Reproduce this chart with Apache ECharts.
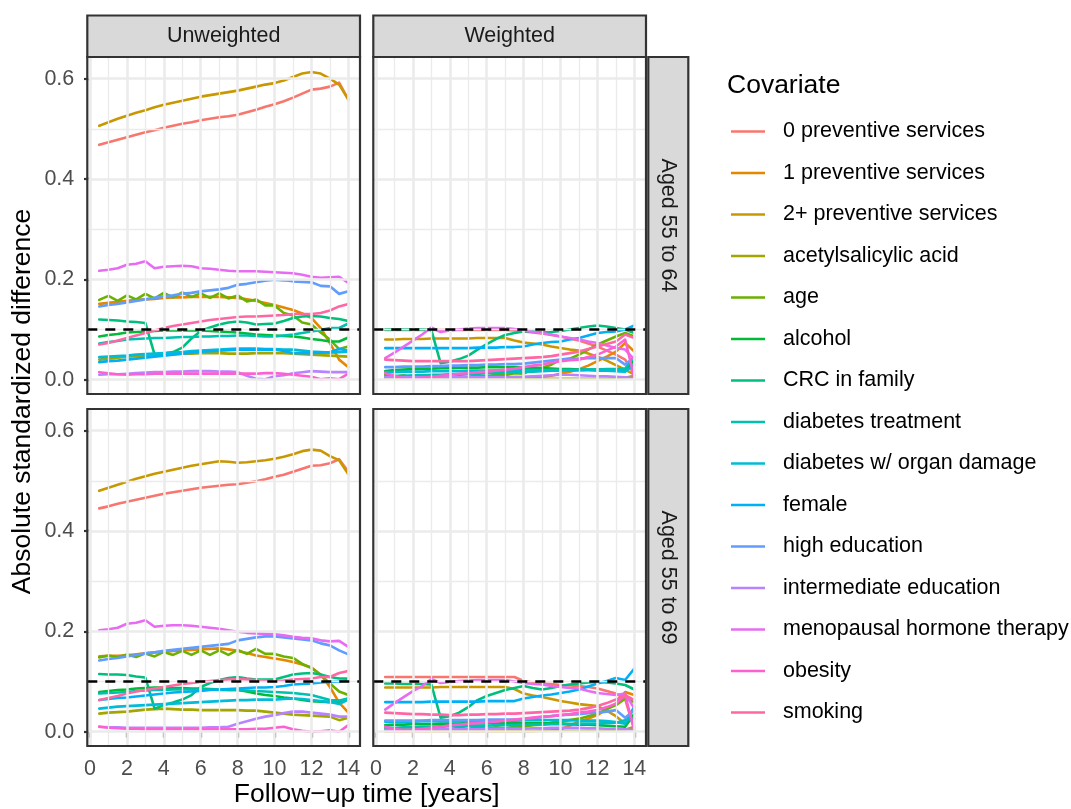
<!DOCTYPE html>
<html><head><meta charset="utf-8">
<script src="https://cdn.jsdelivr.net/npm/echarts@6/dist/echarts.min.js"></script>
<style>html,body{margin:0;padding:0;background:#fff}#c{width:1071px;height:809px}</style>
</head><body><div id="c"></div>
<script>
// ---------- data ----------
const time = [0.5,1,1.5,2,2.5,3,3.5,4,4.5,5,5.5,6,6.5,7,7.5,8,8.5,9,9.5,10,10.5,11,11.5,12,12.5,13,13.5,14];
const covariates = ['0 preventive services','1 preventive services','2+ preventive services','acetylsalicylic acid','age','alcohol','CRC in family','diabetes treatment','diabetes w/ organ damage','female','high education','intermediate education','menopausal hormone therapy','obesity','smoking'];
const colStrips = ['Unweighted','Weighted'];
const rowStrips = ['Aged 55 to 64','Aged 55 to 69'];
const xTicks = [0,2,4,6,8,10,12,14];
const xMinor = [1,3,5,7,9,11,13];
const yTicks = [0,0.2,0.4,0.6];
const yMinor = [0.1,0.3,0.5];
const threshold = 0.1;

// Unweighted, aged 55 to 64
const u64_prev0 = [0.468,0.473,0.478,0.483,0.488,0.493,0.497,0.502,0.506,0.510,0.513,0.517,0.520,0.523,0.525,0.528,0.533,0.538,0.544,0.549,0.555,0.562,0.570,0.578,0.580,0.584,0.592,0.558];
const u64_prev1 = [0.151,0.153,0.155,0.157,0.159,0.160,0.161,0.163,0.164,0.164,0.165,0.165,0.165,0.165,0.164,0.163,0.160,0.157,0.153,0.149,0.144,0.139,0.132,0.123,0.103,0.073,0.040,0.025];
const u64_prev2 = [0.506,0.513,0.520,0.526,0.532,0.537,0.543,0.548,0.552,0.556,0.560,0.564,0.567,0.570,0.573,0.576,0.580,0.584,0.588,0.591,0.596,0.603,0.610,0.613,0.610,0.600,0.588,0.558];
const u64_asa = [0.040,0.042,0.044,0.046,0.047,0.048,0.049,0.050,0.051,0.052,0.052,0.053,0.053,0.053,0.052,0.052,0.052,0.053,0.053,0.053,0.053,0.052,0.051,0.050,0.049,0.048,0.047,0.046];
const u64_age = [0.159,0.167,0.157,0.168,0.160,0.171,0.162,0.173,0.164,0.174,0.165,0.172,0.163,0.172,0.162,0.168,0.156,0.160,0.148,0.148,0.133,0.128,0.114,0.110,0.094,0.080,0.061,0.066];
const u64_alc = [0.086,0.089,0.091,0.094,0.095,0.096,0.097,0.098,0.098,0.098,0.098,0.098,0.097,0.096,0.095,0.094,0.092,0.090,0.089,0.088,0.087,0.086,0.084,0.081,0.079,0.076,0.076,0.084];
const u64_crc = [0.120,0.119,0.118,0.116,0.115,0.113,0.050,0.052,0.055,0.064,0.082,0.097,0.104,0.110,0.114,0.116,0.114,0.110,0.111,0.112,0.117,0.123,0.126,0.127,0.126,0.123,0.121,0.117];
const u64_dmt = [0.072,0.075,0.077,0.080,0.081,0.082,0.083,0.083,0.084,0.085,0.085,0.086,0.086,0.087,0.087,0.088,0.088,0.087,0.086,0.086,0.088,0.090,0.093,0.096,0.099,0.103,0.103,0.112];
const u64_dmo = [0.045,0.046,0.047,0.048,0.050,0.051,0.052,0.053,0.054,0.055,0.057,0.058,0.059,0.060,0.061,0.062,0.062,0.062,0.061,0.061,0.060,0.060,0.058,0.056,0.055,0.054,0.055,0.056];
const u64_fem = [0.035,0.037,0.038,0.040,0.042,0.044,0.046,0.048,0.050,0.052,0.054,0.056,0.057,0.058,0.059,0.060,0.060,0.060,0.060,0.060,0.057,0.053,0.053,0.053,0.054,0.055,0.061,0.058];
const u64_hed = [0.146,0.149,0.151,0.154,0.157,0.160,0.163,0.166,0.168,0.171,0.173,0.176,0.178,0.180,0.183,0.189,0.191,0.194,0.197,0.199,0.198,0.196,0.195,0.194,0.187,0.186,0.171,0.176];
const u64_ied = [0.010,0.011,0.011,0.012,0.013,0.014,0.015,0.015,0.016,0.016,0.017,0.017,0.017,0.016,0.016,0.015,0.008,0.002,0.001,0.007,0.009,0.013,0.015,0.017,0.016,0.015,0.015,0.015];
const u64_mht = [0.217,0.219,0.222,0.229,0.231,0.236,0.222,0.225,0.226,0.227,0.226,0.222,0.221,0.219,0.217,0.216,0.216,0.216,0.215,0.214,0.213,0.212,0.209,0.205,0.203,0.204,0.205,0.193];
const u64_obe = [0.015,0.013,0.011,0.010,0.011,0.011,0.012,0.012,0.012,0.012,0.012,0.012,0.012,0.012,0.012,0.012,0.012,0.012,0.013,0.013,0.012,0.010,0.008,0.006,0.001,0.003,0.001,0.012];
const u64_smk = [0.070,0.073,0.078,0.083,0.088,0.093,0.098,0.103,0.107,0.110,0.113,0.116,0.119,0.121,0.123,0.125,0.126,0.126,0.127,0.128,0.129,0.131,0.131,0.131,0.133,0.138,0.146,0.151];

// Weighted, aged 55 to 64
const w64_prev0 = [0.099,0.099,0.099,0.099,0.099,0.099,0.099,0.099,0.099,0.099,0.099,0.099,0.099,0.099,0.098,0.096,0.094,0.092,0.089,0.086,0.082,0.078,0.072,0.066,0.058,0.050,0.040,0.010];
const w64_prev1 = [0.004,0.004,0.004,0.005,0.005,0.005,0.005,0.005,0.005,0.005,0.005,0.005,0.005,0.005,0.005,0.005,0.006,0.006,0.008,0.012,0.016,0.021,0.028,0.037,0.046,0.056,0.073,0.056];
const w64_prev2 = [0.080,0.080,0.081,0.081,0.081,0.082,0.082,0.082,0.082,0.082,0.083,0.083,0.083,0.083,0.078,0.074,0.072,0.070,0.066,0.063,0.060,0.058,0.052,0.046,0.038,0.029,0.020,0.010];
const w64_asa = [0.002,0.002,0.002,0.002,0.002,0.002,0.002,0.002,0.002,0.002,0.002,0.002,0.002,0.002,0.002,0.002,0.002,0.002,0.002,0.002,0.002,0.002,0.002,0.002,0.002,0.003,0.004,0.008];
const w64_age = [0.010,0.006,0.009,0.004,0.007,0.004,0.007,0.005,0.007,0.006,0.009,0.007,0.010,0.009,0.013,0.012,0.020,0.024,0.030,0.040,0.042,0.050,0.060,0.070,0.078,0.086,0.093,0.086];
const w64_alc = [0.017,0.019,0.020,0.021,0.022,0.022,0.023,0.023,0.024,0.024,0.024,0.025,0.025,0.025,0.025,0.024,0.024,0.023,0.022,0.021,0.021,0.020,0.020,0.020,0.019,0.018,0.017,0.040];
const w64_crc = [0.100,0.100,0.100,0.100,0.100,0.099,0.033,0.036,0.041,0.048,0.060,0.071,0.081,0.089,0.093,0.096,0.096,0.094,0.095,0.097,0.100,0.103,0.106,0.108,0.106,0.103,0.100,0.093];
const w64_dmt = [0.007,0.008,0.008,0.009,0.009,0.010,0.010,0.011,0.011,0.012,0.012,0.013,0.013,0.014,0.015,0.016,0.016,0.017,0.018,0.018,0.019,0.019,0.020,0.020,0.021,0.021,0.022,0.045];
const w64_dmo = [0.015,0.015,0.016,0.016,0.016,0.017,0.017,0.017,0.017,0.018,0.018,0.018,0.018,0.018,0.019,0.019,0.019,0.019,0.019,0.019,0.019,0.019,0.019,0.018,0.018,0.017,0.016,0.030];
const w64_fem = [0.063,0.063,0.063,0.063,0.063,0.063,0.063,0.063,0.063,0.063,0.064,0.064,0.064,0.065,0.065,0.066,0.070,0.073,0.075,0.076,0.080,0.083,0.088,0.093,0.095,0.096,0.100,0.108];
const w64_hed = [0.025,0.025,0.026,0.026,0.026,0.027,0.027,0.028,0.028,0.029,0.029,0.030,0.030,0.031,0.031,0.032,0.034,0.036,0.038,0.040,0.041,0.042,0.043,0.043,0.043,0.043,0.030,0.046];
const w64_ied = [0.005,0.005,0.005,0.005,0.005,0.005,0.005,0.005,0.005,0.005,0.005,0.005,0.005,0.005,0.006,0.006,0.007,0.008,0.009,0.010,0.010,0.009,0.008,0.007,0.007,0.006,0.005,0.003];
const w64_mht = [0.043,0.054,0.066,0.078,0.090,0.104,0.095,0.098,0.100,0.102,0.103,0.103,0.103,0.103,0.101,0.098,0.095,0.093,0.090,0.086,0.083,0.080,0.076,0.073,0.068,0.063,0.060,0.040];
const w64_obe = [0.013,0.008,0.002,0.002,0.004,0.006,0.008,0.010,0.012,0.013,0.015,0.016,0.018,0.020,0.022,0.025,0.028,0.030,0.034,0.037,0.039,0.040,0.045,0.050,0.058,0.066,0.080,0.003];
const w64_smk = [0.040,0.039,0.038,0.037,0.037,0.037,0.037,0.037,0.037,0.037,0.038,0.039,0.040,0.041,0.042,0.043,0.044,0.045,0.047,0.050,0.053,0.056,0.061,0.066,0.071,0.076,0.090,0.083];

// Unweighted, aged 55 to 69
const u69_prev0 = [0.445,0.449,0.454,0.458,0.462,0.466,0.470,0.474,0.477,0.480,0.483,0.486,0.488,0.490,0.492,0.493,0.496,0.499,0.503,0.508,0.512,0.518,0.524,0.530,0.531,0.535,0.543,0.518];
const u69_prev1 = [0.150,0.151,0.151,0.152,0.154,0.156,0.158,0.159,0.161,0.162,0.163,0.164,0.165,0.166,0.164,0.161,0.157,0.152,0.149,0.146,0.143,0.139,0.134,0.128,0.114,0.089,0.058,0.038];
const u69_prev2 = [0.480,0.486,0.492,0.498,0.504,0.509,0.514,0.518,0.522,0.526,0.530,0.533,0.536,0.539,0.538,0.536,0.537,0.539,0.541,0.544,0.548,0.553,0.559,0.562,0.560,0.549,0.541,0.513];
const u69_asa = [0.036,0.038,0.039,0.040,0.042,0.044,0.045,0.046,0.045,0.044,0.044,0.043,0.043,0.043,0.043,0.043,0.042,0.042,0.040,0.038,0.036,0.034,0.033,0.032,0.031,0.030,0.023,0.028];
const u69_age = [0.148,0.152,0.148,0.154,0.149,0.156,0.150,0.159,0.153,0.161,0.153,0.162,0.153,0.162,0.153,0.163,0.155,0.165,0.155,0.155,0.150,0.147,0.135,0.127,0.113,0.096,0.080,0.073];
const u69_alc = [0.079,0.081,0.083,0.084,0.086,0.087,0.088,0.088,0.087,0.087,0.086,0.086,0.085,0.084,0.083,0.083,0.080,0.076,0.073,0.071,0.068,0.066,0.063,0.061,0.060,0.059,0.060,0.066];
const u69_crc = [0.115,0.114,0.114,0.113,0.110,0.108,0.046,0.053,0.058,0.064,0.073,0.089,0.097,0.103,0.107,0.109,0.106,0.104,0.104,0.104,0.109,0.114,0.116,0.117,0.114,0.109,0.106,0.106];
const u69_dmt = [0.076,0.077,0.078,0.079,0.081,0.082,0.083,0.083,0.084,0.084,0.084,0.084,0.084,0.083,0.083,0.083,0.082,0.081,0.080,0.079,0.078,0.077,0.075,0.073,0.068,0.063,0.062,0.066];
const u69_dmo = [0.046,0.048,0.050,0.051,0.052,0.053,0.054,0.055,0.056,0.057,0.058,0.059,0.060,0.061,0.062,0.063,0.063,0.064,0.064,0.064,0.065,0.066,0.065,0.063,0.061,0.059,0.055,0.064];
const u69_fem = [0.063,0.065,0.067,0.068,0.070,0.072,0.074,0.076,0.078,0.079,0.080,0.081,0.083,0.084,0.085,0.086,0.087,0.088,0.088,0.089,0.091,0.094,0.095,0.096,0.098,0.099,0.100,0.103];
const u69_hed = [0.142,0.145,0.147,0.150,0.153,0.156,0.158,0.161,0.163,0.165,0.167,0.169,0.171,0.173,0.175,0.182,0.185,0.188,0.190,0.190,0.188,0.186,0.184,0.182,0.176,0.172,0.162,0.154];
const u69_ied = [0.010,0.009,0.009,0.008,0.008,0.008,0.008,0.008,0.008,0.008,0.008,0.008,0.009,0.009,0.010,0.016,0.021,0.026,0.030,0.033,0.037,0.040,0.040,0.038,0.036,0.034,0.030,0.030];
const u69_mht = [0.202,0.204,0.207,0.215,0.217,0.222,0.209,0.211,0.212,0.212,0.211,0.209,0.207,0.205,0.202,0.199,0.197,0.196,0.195,0.194,0.192,0.189,0.187,0.186,0.182,0.180,0.181,0.169];
const u69_obe = [0.010,0.008,0.007,0.006,0.006,0.005,0.005,0.005,0.005,0.005,0.005,0.005,0.005,0.005,0.005,0.005,0.005,0.006,0.006,0.008,0.010,0.005,0.002,0.000,0.001,0.003,0.000,0.013];
const u69_smk = [0.063,0.067,0.071,0.076,0.080,0.083,0.086,0.089,0.092,0.095,0.097,0.099,0.101,0.103,0.104,0.105,0.104,0.103,0.102,0.101,0.102,0.104,0.105,0.106,0.109,0.109,0.117,0.121];

// Weighted, aged 55 to 69
const w69_prev0 = [0.109,0.109,0.109,0.109,0.109,0.109,0.109,0.109,0.109,0.109,0.109,0.109,0.109,0.109,0.109,0.101,0.098,0.096,0.095,0.093,0.092,0.091,0.089,0.086,0.081,0.076,0.065,0.003];
const w69_prev1 = [0.001,0.001,0.001,0.001,0.001,0.001,0.001,0.001,0.001,0.001,0.001,0.001,0.001,0.001,0.001,0.001,0.001,0.002,0.003,0.005,0.012,0.020,0.026,0.033,0.045,0.056,0.079,0.073];
const w69_prev2 = [0.088,0.088,0.088,0.088,0.088,0.088,0.089,0.089,0.089,0.089,0.089,0.089,0.089,0.089,0.085,0.076,0.072,0.069,0.065,0.061,0.058,0.055,0.053,0.051,0.042,0.031,0.016,0.050];
const w69_asa = [0.002,0.002,0.002,0.002,0.002,0.002,0.002,0.002,0.002,0.002,0.002,0.002,0.002,0.002,0.002,0.002,0.002,0.002,0.002,0.002,0.002,0.002,0.002,0.002,0.002,0.003,0.004,0.010];
const w69_age = [0.008,0.005,0.008,0.004,0.007,0.004,0.007,0.005,0.008,0.006,0.009,0.006,0.009,0.007,0.010,0.010,0.013,0.014,0.018,0.020,0.023,0.026,0.031,0.036,0.045,0.053,0.066,0.059];
const w69_alc = [0.013,0.014,0.014,0.015,0.015,0.015,0.016,0.016,0.016,0.017,0.017,0.017,0.018,0.018,0.018,0.017,0.017,0.017,0.016,0.016,0.015,0.014,0.014,0.013,0.012,0.011,0.010,0.036];
const w69_crc = [0.096,0.096,0.095,0.095,0.095,0.094,0.028,0.031,0.038,0.049,0.063,0.071,0.077,0.083,0.087,0.091,0.087,0.084,0.087,0.091,0.094,0.096,0.098,0.099,0.098,0.096,0.093,0.084];
const w69_dmt = [0.008,0.008,0.009,0.009,0.010,0.010,0.011,0.011,0.011,0.012,0.012,0.012,0.013,0.013,0.013,0.014,0.014,0.014,0.015,0.015,0.015,0.016,0.016,0.016,0.017,0.018,0.023,0.026];
const w69_dmo = [0.020,0.020,0.020,0.020,0.021,0.021,0.021,0.021,0.021,0.022,0.022,0.022,0.022,0.022,0.022,0.023,0.023,0.023,0.023,0.023,0.023,0.022,0.022,0.022,0.021,0.019,0.016,0.050];
const w69_fem = [0.059,0.059,0.059,0.059,0.059,0.060,0.060,0.060,0.060,0.060,0.060,0.061,0.061,0.061,0.061,0.066,0.069,0.072,0.074,0.077,0.080,0.084,0.090,0.096,0.101,0.107,0.103,0.126];
const w69_hed = [0.022,0.022,0.022,0.022,0.022,0.023,0.023,0.023,0.023,0.023,0.023,0.024,0.024,0.024,0.024,0.025,0.027,0.029,0.031,0.033,0.034,0.035,0.037,0.038,0.040,0.043,0.028,0.043];
const w69_ied = [0.004,0.004,0.004,0.004,0.004,0.005,0.005,0.005,0.005,0.005,0.005,0.005,0.006,0.006,0.006,0.006,0.007,0.007,0.008,0.008,0.008,0.008,0.007,0.007,0.006,0.006,0.005,0.003];
const w69_mht = [0.044,0.057,0.069,0.081,0.091,0.105,0.097,0.099,0.101,0.102,0.103,0.103,0.103,0.103,0.100,0.097,0.095,0.094,0.091,0.089,0.087,0.086,0.081,0.077,0.075,0.073,0.076,0.046];
const w69_obe = [0.010,0.006,0.003,0.004,0.006,0.008,0.010,0.013,0.014,0.016,0.017,0.019,0.020,0.022,0.024,0.026,0.028,0.030,0.031,0.033,0.035,0.038,0.040,0.043,0.049,0.056,0.073,0.003];
const w69_smk = [0.038,0.037,0.036,0.035,0.035,0.034,0.034,0.033,0.033,0.034,0.034,0.035,0.035,0.036,0.036,0.037,0.038,0.039,0.040,0.041,0.042,0.044,0.047,0.051,0.057,0.064,0.073,0.063];

// ---------- styling / layout ----------
const palette = ['#F8766D','#E58700','#C99800','#A3A500','#6BB100','#00BA38','#00BF7D','#00C0AF','#00BCD8','#00B0F6','#619CFF','#B983FF','#E76BF3','#FD61D1','#FF67A4'];
const FONT = "'Liberation Sans', Arial, Helvetica, sans-serif";
const PX = [87.3, 373.3], PW = 272.7;
const PY = [57, 409], PH = 337;
const XMIN = -0.146, XMAX = 14.63, YMIN = -0.0285, YMAX = 0.643;

const panels = [
  {row:0,col:0,data:[u64_prev0,u64_prev1,u64_prev2,u64_asa,u64_age,u64_alc,u64_crc,u64_dmt,u64_dmo,u64_fem,u64_hed,u64_ied,u64_mht,u64_obe,u64_smk]},
  {row:0,col:1,data:[w64_prev0,w64_prev1,w64_prev2,w64_asa,w64_age,w64_alc,w64_crc,w64_dmt,w64_dmo,w64_fem,w64_hed,w64_ied,w64_mht,w64_obe,w64_smk]},
  {row:1,col:0,data:[u69_prev0,u69_prev1,u69_prev2,u69_asa,u69_age,u69_alc,u69_crc,u69_dmt,u69_dmo,u69_fem,u69_hed,u69_ied,u69_mht,u69_obe,u69_smk]},
  {row:1,col:1,data:[w69_prev0,w69_prev1,w69_prev2,w69_asa,w69_age,w69_alc,w69_crc,w69_dmt,w69_dmo,w69_fem,w69_hed,w69_ied,w69_mht,w69_obe,w69_smk]}
];

const grid = [], xAxis = [], yAxis = [], series = [], graphic = [];
const gridColor = '#EBEBEB';

panels.forEach((p, i) => {
  grid.push({left: PX[p.col], top: PY[p.row], width: PW, height: PH, containLabel: false});
  const showX = p.row === 1, showY = p.col === 0;
  xAxis.push({
    type:'value', gridIndex:i, min:XMIN, max:XMAX,
    axisLine:{show:false}, splitLine:{show:false},
    axisTick:{show:showX, customValues:xTicks, length:6, lineStyle:{color:'#333333', width:2.2}},
    axisLabel:{show:showX, customValues:xTicks, margin:12, fontSize:21.5, color:'#4D4D4D', fontFamily:FONT}
  });
  yAxis.push({
    type:'value', gridIndex:i, min:YMIN, max:YMAX,
    axisLine:{show:false}, splitLine:{show:false},
    axisTick:{show:showY, customValues:yTicks, length:6, lineStyle:{color:'#333333', width:2.2}},
    axisLabel:{show:showY, customValues:yTicks, margin:13, fontSize:21.5, color:'#4D4D4D', fontFamily:FONT,
               formatter: v => v.toFixed(1)}
  });
  // grid lines
  const ml = [];
  yMinor.forEach(v => ml.push({yAxis:v, lineStyle:{color:gridColor, width:1.3, type:'solid'}}));
  xMinor.forEach(v => ml.push({xAxis:v, lineStyle:{color:gridColor, width:1.3, type:'solid'}}));
  yTicks.forEach(v => ml.push({yAxis:v, lineStyle:{color:gridColor, width:2.6, type:'solid'}}));
  xTicks.forEach(v => ml.push({xAxis:v, lineStyle:{color:gridColor, width:2.6, type:'solid'}}));
  series.push({
    type:'line', xAxisIndex:i, yAxisIndex:i, data:[[time[0], p.data[0][0]]], showSymbol:false, symbol:'none',
    lineStyle:{width:0, opacity:0}, silent:true, z:1, tooltip:{show:false},
    markLine:{silent:true, symbol:['none','none'], label:{show:false}, animation:false, data:ml}
  });
  p.data.forEach((vals, k) => {
    series.push({
      name: covariates[k], type:'line', xAxisIndex:i, yAxisIndex:i,
      data: time.map((t, j) => [t, vals[j]]),
      showSymbol:false, symbol:'none', z:2, silent:true,
      lineStyle:{color:palette[k], width:2.6, join:'round', cap:'round'}, itemStyle:{color:palette[k]}
    });
  });
  // threshold
  series.push({
    type:'line', xAxisIndex:i, yAxisIndex:i, data:[[time[0], p.data[0][0]]], showSymbol:false, symbol:'none',
    lineStyle:{width:0, opacity:0}, silent:true, z:5,
    markLine:{silent:true, symbol:['none','none'], label:{show:false}, animation:false,
      data:[{yAxis:threshold, lineStyle:{color:'#000000', width:2.6, type:[10,8]}}]}
  });
  // panel border
  graphic.push({type:'rect', z:100, shape:{x:PX[p.col], y:PY[p.row], width:PW, height:PH},
    style:{fill:'none', stroke:'#333333', lineWidth:2.2}});
});

// column strips
colStrips.forEach((s, c) => {
  graphic.push({type:'rect', z:100, shape:{x:PX[c], y:15.5, width:PW, height:PY[0]-15.5},
    style:{fill:'#D9D9D9', stroke:'#333333', lineWidth:2.2}});
  graphic.push({type:'text', z:101, x:PX[c]+PW/2, y:(15.5+PY[0])/2,
    style:{text:s, fontSize:21.5, fontFamily:FONT, fill:'#1A1A1A', align:'center', verticalAlign:'middle'}});
});
// row strips
rowStrips.forEach((s, r) => {
  graphic.push({type:'rect', z:100, shape:{x:648.3, y:PY[r], width:40, height:PH},
    style:{fill:'#D9D9D9', stroke:'#333333', lineWidth:2.2}});
  graphic.push({type:'text', z:101, x:668.3, y:PY[r]+PH/2, rotation:-Math.PI/2,
    style:{text:s, fontSize:21.5, fontFamily:FONT, fill:'#1A1A1A', align:'center', verticalAlign:'middle'}});
});
// axis titles
graphic.push({type:'text', z:101, x:(PX[0]+PX[1]+PW)/2, y:795,
  style:{text:'Follow\u2212up time [years]', fontSize:26.5, fontFamily:FONT, fill:'#000000', align:'center', verticalAlign:'middle'}});
graphic.push({type:'text', z:101, x:23, y:(PY[0]+PY[1]+PH)/2, rotation:Math.PI/2,
  style:{text:'Absolute standardized difference', fontSize:26.5, fontFamily:FONT, fill:'#000000', align:'center', verticalAlign:'middle'}});
// legend title
graphic.push({type:'text', z:101, x:727, y:86,
  style:{text:'Covariate', fontSize:26.5, fontFamily:FONT, fill:'#000000', align:'left', verticalAlign:'middle'}});

const chart = echarts.init(document.getElementById('c'), null, {renderer:'canvas'});
chart.setOption({
  animation:false,
  backgroundColor:'#ffffff',
  textStyle:{fontFamily:FONT},
  grid, xAxis, yAxis, series, graphic,
  legend:{
    data: covariates, orient:'vertical', left:731, top:120.5, padding:0,
    itemWidth:34, itemHeight:2.4, itemGap:19.5, icon:'rect', selectedMode:false,
    textStyle:{fontSize:21.5, color:'#000000', fontFamily:FONT, lineHeight:22, padding:[0,0,0,13]}
  }
});
</script>
</body></html>
